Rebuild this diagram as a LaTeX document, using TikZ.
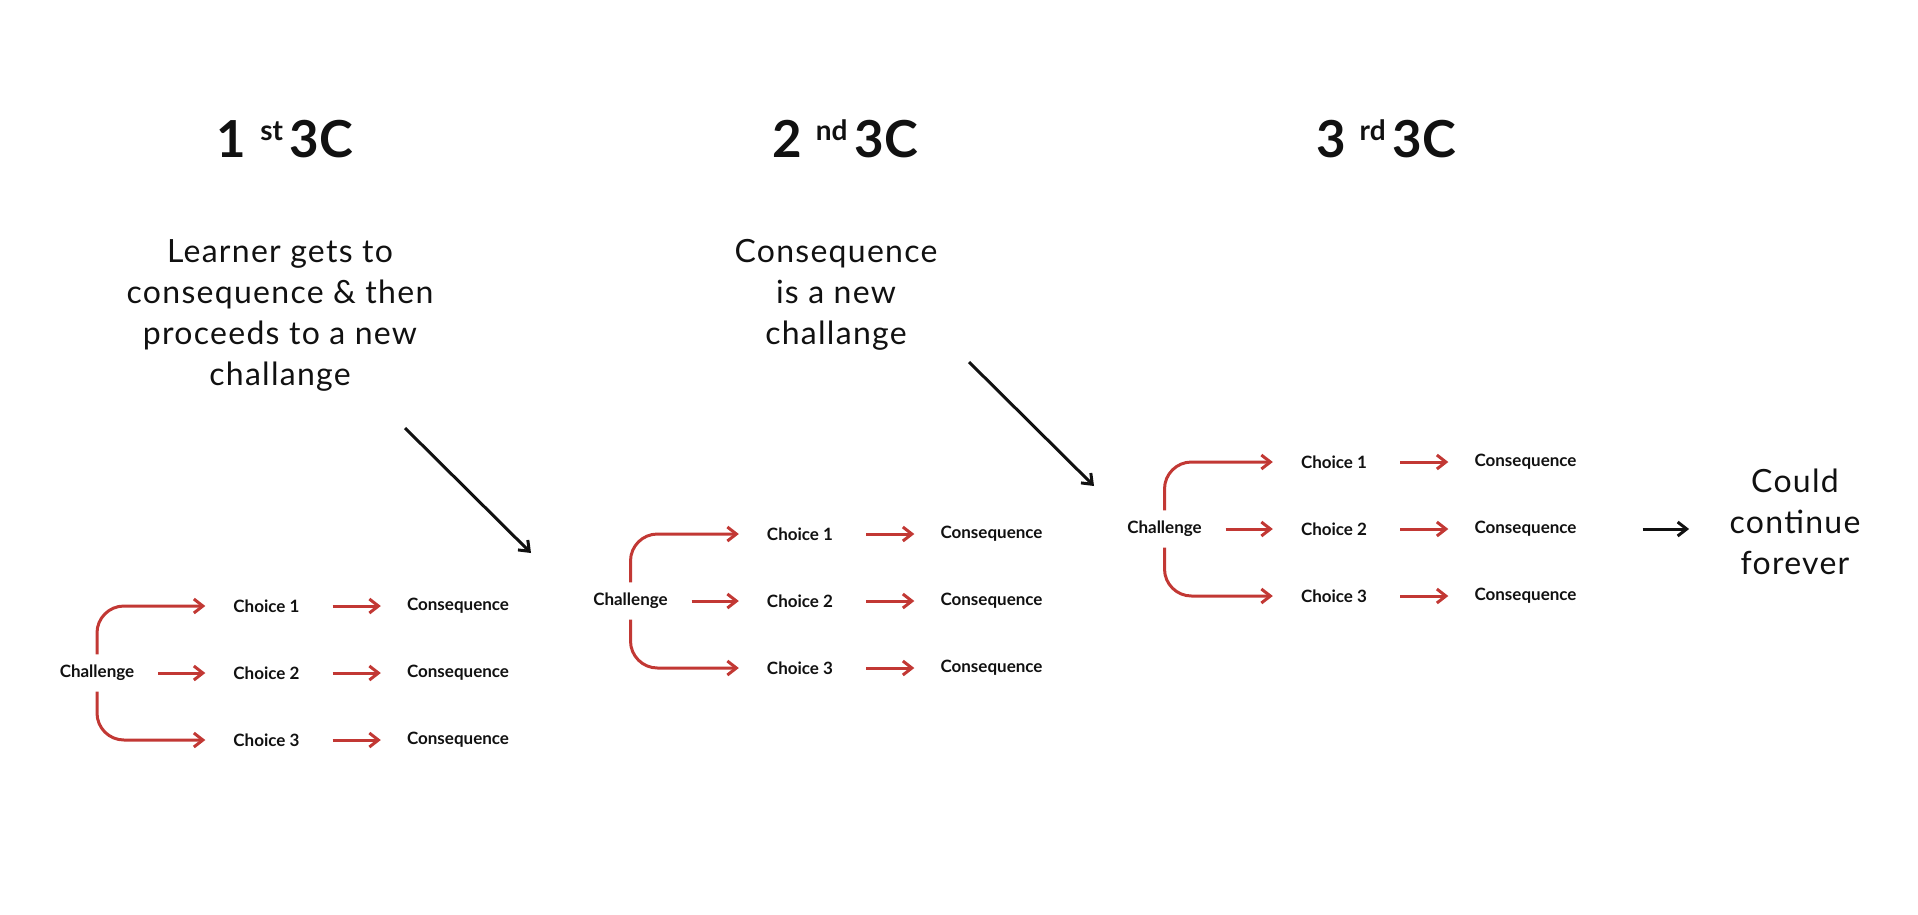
\documentclass[tikz,border=0pt]{standalone}
\usepackage{fontspec}
\setmainfont{Lato}
\newfontfamily\notefont[LetterSpace=4]{Lato}
\usepackage{tikz}
\usetikzlibrary{arrows.meta}
\definecolor{arrowred}{RGB}{194,56,52}
\definecolor{ink}{RGB}{17,17,17}
\newcommand{\nthtitle}[2]{#1\hspace{14pt}{\fontsize{28}{30}\selectfont\raisebox{17pt}{#2}}\hspace{7pt}3C}

\begin{document}
\begin{tikzpicture}[x=1pt,y=-1pt,
  title/.style={font=\fontsize{51}{60}\selectfont\bfseries,text=ink,anchor=base},
  note/.style={font=\notefont\fontsize{32}{41}\selectfont,text=ink,align=center},
  chal/.style={font=\fontsize{17}{20}\selectfont\bfseries,text=ink,inner sep=0pt,minimum width=122pt,minimum height=37pt},
  choice/.style={chal,minimum height=0pt},
  cons/.style={chal,minimum width=154pt,minimum height=0pt},
  redarrow/.style={draw=arrowred,line width=3pt,-{Straight Barb[length=9pt,width=14pt]}},
  blkarrow/.style={draw=ink,line width=3pt,-{Straight Barb[length=9pt,width=14pt]}}]
\useasboundingbox (0,0) rectangle (1918,914);

\node[title] (T1) at (285,157) {\nthtitle{1}{st}};
\node[title] (T2) at (845,157) {\nthtitle{2}{nd}};
\node[title] (T3) at (1386,157) {\nthtitle{3}{rd}};

\node[note] (learn) at (280,315) {Learner gets to\\consequence \& then\\proceeds to a new\\challange};
\node[note] (isnew) at (836,295) {Consequence\\is a new\\challange};
\node[note] (forever) at (1795,521.5) {Could\\continue\\forever};

\node[chal] (L) at (97,673) {Challenge};
\node[choice] (L1) at (266.5,606) {Choice 1};
\node[choice] (L2) at (266.5,673) {Choice 2};
\node[choice] (L3) at (266.5,740) {Choice 3};
\node[cons] (LC1) at (458,606) {Consequence};
\node[cons] (LC2) at (458,673) {Consequence};
\node[cons] (LC3) at (458,740) {Consequence};

\node[chal] (M) at (630.5,601) {Challenge};
\node[choice] (M1) at (800,534) {Choice 1};
\node[choice] (M2) at (800,601) {Choice 2};
\node[choice] (M3) at (800,668) {Choice 3};
\node[cons] (MC1) at (991.5,534) {Consequence};
\node[cons] (MC2) at (991.5,601) {Consequence};
\node[cons] (MC3) at (991.5,668) {Consequence};

\node[chal] (R) at (1164.5,529) {Challenge};
\node[choice] (R1) at (1334,462) {Choice 1};
\node[choice] (R2) at (1334,529) {Choice 2};
\node[choice] (R3) at (1334,596) {Choice 3};
\node[cons] (RC1) at (1525.5,462) {Consequence};
\node[cons] (RC2) at (1525.5,529) {Consequence};
\node[cons] (RC3) at (1525.5,596) {Consequence};

\draw[redarrow,rounded corners=27pt] (L.north) |- (L1.west);
\draw[redarrow] (L) -- (L2);
\draw[redarrow,rounded corners=27pt] (L.south) |- (L3.west);
\draw[redarrow,shorten <=5pt] (L1) -- (LC1);
\draw[redarrow,shorten <=5pt] (L2) -- (LC2);
\draw[redarrow,shorten <=5pt] (L3) -- (LC3);

\draw[redarrow,rounded corners=27pt] (M.north) |- (M1.west);
\draw[redarrow] (M) -- (M2);
\draw[redarrow,rounded corners=27pt] (M.south) |- (M3.west);
\draw[redarrow,shorten <=5pt] (M1) -- (MC1);
\draw[redarrow,shorten <=5pt] (M2) -- (MC2);
\draw[redarrow,shorten <=5pt] (M3) -- (MC3);

\draw[redarrow,rounded corners=27pt] (R.north) |- (R1.west);
\draw[redarrow] (R) -- (R2);
\draw[redarrow,rounded corners=27pt] (R.south) |- (R3.west);
\draw[redarrow,shorten <=5pt] (R1) -- (RC1);
\draw[redarrow,shorten <=5pt] (R2) -- (RC2);
\draw[redarrow,shorten <=5pt] (R3) -- (RC3);

\coordinate (d1s) at (405,428);
\coordinate (d1e) at (531,553);
\coordinate (d2s) at (969,362);
\coordinate (d2e) at (1094,486);
\draw[blkarrow] (d1s) -- (d1e);
\draw[blkarrow] (d2s) -- (d2e);
\draw[blkarrow,shorten <=40pt,shorten >=37pt] (RC2.east) -- (RC2.east -| forever.west);
\end{tikzpicture}
\end{document}
